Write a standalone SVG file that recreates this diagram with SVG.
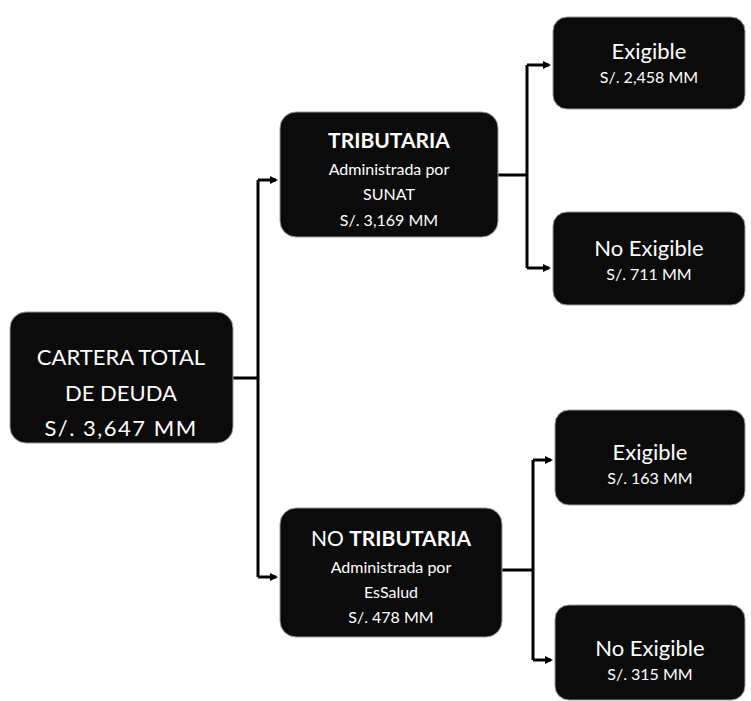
<svg xmlns="http://www.w3.org/2000/svg" width="751" height="701" viewBox="0 0 751 701">
<style>
.box{fill:#0b0b0b;stroke:#9a9a9a;stroke-width:1}
.t{fill:#fff;font-family:Lato,"Open Sans",sans-serif;text-anchor:middle}
.big{font-size:22px}
.hd{font-size:21px;font-weight:bold}
.sm{font-size:16px}
.md{font-size:22px}
.val{font-size:16px}
.c{fill:none;stroke:#000;stroke-width:3}
</style>
<defs>
<marker id="ah" markerWidth="8" markerHeight="8" refX="6" refY="4" orient="auto" markerUnits="userSpaceOnUse">
<path d="M0,0 L8,4 L0,8 Z" fill="#000"/>
</marker>
</defs>
<rect width="751" height="701" fill="#fff"/>
<g id="connectors">
<path class="c" d="M233,378 H258 M258,180 V577"/>
<path class="c" d="M258,180 H276" marker-end="url(#ah)"/>
<path class="c" d="M258,577 H276" marker-end="url(#ah)"/>
<path class="c" d="M498,175 H527 M527,65 V268"/>
<path class="c" d="M527,65 H549" marker-end="url(#ah)"/>
<path class="c" d="M527,268 H549" marker-end="url(#ah)"/>
<path class="c" d="M502,570 H533 M533,460 V660"/>
<path class="c" d="M533,460 H551" marker-end="url(#ah)"/>
<path class="c" d="M533,660 H551" marker-end="url(#ah)"/>
</g>
<g id="root">
<rect class="box" x="10" y="312" width="223" height="131" rx="16"/>
<text class="t big" x="121" y="365">CARTERA TOTAL</text>
<text class="t big" x="121" y="401">DE DEUDA</text>
<text class="t big" x="121" y="436" letter-spacing="1.5">S/. 3,647 MM</text>
</g>
<g id="tributaria">
<rect class="box" x="280" y="112" width="218" height="125" rx="16"/>
<text class="t hd" x="389" y="148">TRIBUTARIA</text>
<text class="t sm" x="389" y="175">Administrada por</text>
<text class="t sm" x="389" y="200">SUNAT</text>
<text class="t sm" x="389" y="226">S/. 3,169 MM</text>
</g>
<g id="no-tributaria">
<rect class="box" x="280" y="508" width="222" height="129" rx="16"/>
<text class="t hd" x="391" y="546"><tspan font-weight="normal">NO </tspan>TRIBUTARIA</text>
<text class="t sm" x="391" y="573">Administrada por</text>
<text class="t sm" x="391" y="598">EsSalud</text>
<text class="t sm" x="391" y="623">S/. 478 MM</text>
</g>
<g id="exigible-1">
<rect class="box" x="553" y="17" width="192" height="92" rx="14"/>
<text class="t md" x="649" y="59">Exigible</text>
<text class="t val" x="649" y="83">S/. 2,458 MM</text>
</g>
<g id="no-exigible-1">
<rect class="box" x="553" y="212" width="192" height="93" rx="14"/>
<text class="t md" x="649" y="256">No Exigible</text>
<text class="t val" x="649" y="280">S/. 711 MM</text>
</g>
<g id="exigible-2">
<rect class="box" x="555" y="410" width="190" height="95" rx="14"/>
<text class="t md" x="650" y="460">Exigible</text>
<text class="t val" x="650" y="484">S/. 163 MM</text>
</g>
<g id="no-exigible-2">
<rect class="box" x="555" y="605" width="190" height="95" rx="14"/>
<text class="t md" x="650" y="656">No Exigible</text>
<text class="t val" x="650" y="680">S/. 315 MM</text>
</g>
</svg>
